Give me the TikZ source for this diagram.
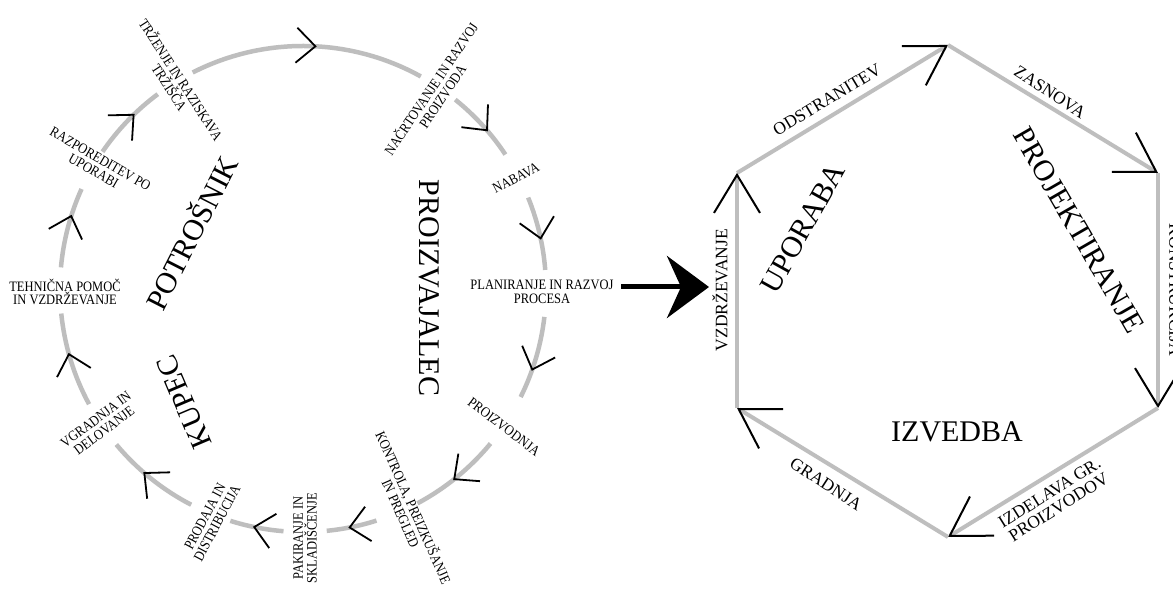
\documentclass[tikz,border=0pt]{standalone}
\usepackage{fontspec}
\setmainfont{Liberation Serif}
\usetikzlibrary{arrows.meta,decorations.markings}
\definecolor{ringgray}{HTML}{BEBEBE}
\tikzset{
  ring/.style={draw=ringgray, line width=4.5pt},
  midtip/.style={decoration={markings, mark=at position #1 with
      {\arrow{Straight Barb[length=19pt, width=35pt, line width=1.8pt, black]}}},
      postaction={decorate}},
  hexedge/.style={draw=ringgray, line width=4pt,
      -{Straight Barb[length=38pt, width=46pt, line width=2pt, black]}},
  bigarrow/.style={line width=5pt, -{Stealth[length=42pt, width=62pt, inset=14pt]}},
  lbl/.style={font=\fontsize{12.5}{12}\selectfont, align=center, inner sep=0pt, yscale=1.15},
  hexlbl/.style={font=\fontsize{17.5}{17}\selectfont, align=center, inner sep=0pt},
  big/.style={font=\fontsize{30}{30}\selectfont, inner sep=0pt},
}
\begin{document}
\begin{tikzpicture}[x=1pt, y=1pt]
\clip (0,0) rectangle (1173,591);
\fill[white] (0,0) rectangle (1173,591);

% ---- quality loop: stage labels round the ring ----
\coordinate (C) at (303,302);
\node[rotate=-57, lbl] (trz) at (176,508) {TRŽENJE IN RAZISKAVA\\TRŽIŠČA};
\node[rotate=56, lbl] (nac) at (436,499) {NAČRTOVANJE IN RAZVOJ\\PROIZVODA};
\node[rotate=27, lbl] (nab) at (516,413) {NABAVA};
\node[lbl] (plan) at (542,299) {PLANIRANJE IN RAZVOJ\\PROCESA};
\node[rotate=-37, lbl] (pro) at (504,164) {PROIZVODNJA};
\node[rotate=-66, lbl] (kon) at (408,81) {KONTROLA, PREIZKUŠANJE\\IN PREGLED};
\node[rotate=90, lbl] (pak) at (305,53) {PAKIRANJE IN\\SKLADIŠČENJE};
\node[rotate=62, lbl] (prd) at (211,71) {PRODAJA IN\\DISTRIBUCIJA};
\node[rotate=37, lbl] (vgr) at (100,166) {VGRADNJA IN\\DELOVANJE};
\node[lbl] (teh) at (65,299) {TEHNIČNA POMOČ\\IN VZDRŽEVANJE};
\node[rotate=-30, lbl] (raz) at (97,426) {RAZPOREDITEV PO\\UPORABI};

% ring segments between the stages, clockwise, each with a tip
\draw[ring, midtip=0.54] ([shift={(117:243)}]C) arc[start angle=117, end angle=61, radius=243];
\draw[ring, midtip=0.61] ([shift={(51.2:243)}]C) arc[start angle=51.2, end angle=33.6, radius=243];
\draw[ring, midtip=0.59] ([shift={(22.1:243)}]C) arc[start angle=22.1, end angle=4.5, radius=243];
\draw[ring, midtip=0.66] ([shift={(-6.6:243)}]C) arc[start angle=-6.6, end angle=-26.4, radius=243];
\draw[ring, midtip=0.55] ([shift={(-39.5:243)}]C) arc[start angle=-39.5, end angle=-61.9, radius=243];
\draw[ring, midtip=0.57] ([shift={(-72.4:243)}]C) arc[start angle=-72.4, end angle=-84.4, radius=243];
\draw[ring, midtip=0.57] ([shift={(-94.6:243)}]C) arc[start angle=-94.6, end angle=-107.4, radius=243];
\draw[ring, midtip=0.60] ([shift={(-117.4:243)}]C) arc[start angle=-117.4, end angle=-140.2, radius=243];
\draw[ring, midtip=0.58] ([shift={(-151.7:243)}]C) arc[start angle=-151.7, end angle=-174.2, radius=243];
\draw[ring, midtip=0.66] ([shift={(174.9:243)}]C) arc[start angle=174.9, end angle=155.7, radius=243];
\draw[ring, midtip=0.62] ([shift={(145.6:243)}]C) arc[start angle=145.6, end angle=126.7, radius=243];

% parties inside the ring
\node[rotate=-90, big] (proizv) at (429,303) {PROIZVAJALEC};
\node[rotate=63, big] (potr) at (190,359) {POTROŠNIK};
\node[rotate=113, big] (kupec) at (184,189) {KUPEC};

% ---- life cycle hexagon ----
\coordinate (hT)  at (948,546);
\coordinate (hUR) at (1158,418);
\coordinate (hLR) at (1158,183);
\coordinate (hB)  at (948,54);
\coordinate (hLL) at (737,183);
\coordinate (hUL) at (737,418);
\draw[hexedge] (hUL) -- (hT);
\draw[hexedge] (hT) -- (hUR);
\draw[hexedge] (hUR) -- (hLR);
\draw[hexedge] (hLR) -- (hB);
\draw[hexedge] (hB) -- (hLL);
\draw[hexedge] (hLL) -- (hUL);

\node[rotate=31, hexlbl] (odst) at (827,491) {ODSTRANITEV};
\node[rotate=-33, hexlbl] (zasn) at (1050,499) {ZASNOVA};
\node[rotate=-90, hexlbl] (konst) at (1175,301) {KONSTRUKCIJA};
\node[rotate=90, hexlbl] (vzd) at (720,301) {VZDRŽEVANJE};
\node[rotate=-33, hexlbl] (grad) at (826,107) {GRADNJA};
\node[rotate=32, hexlbl] (izd) at (1054,91) {IZDELAVA GR.\\PROIZVODOV};

\node[rotate=61, big] (upor) at (803,363) {UPORABA};
\node[rotate=-60, big] (proj) at (1079,361) {PROJEKTIRANJE};
\node[big] (izv) at (957,159) {IZVEDBA};

% link from the loop to the hexagon
\coordinate (arrS) at (621,304);
\coordinate (arrE) at (709,304);
\draw[bigarrow] (arrS) -- (arrE);
\end{tikzpicture}
\end{document}
